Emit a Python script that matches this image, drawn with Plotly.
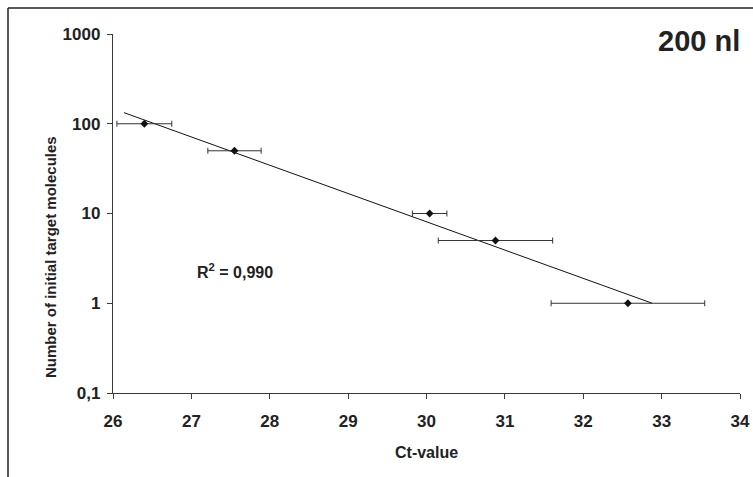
import plotly.graph_objects as go

# Data
ct_values = [26.40, 27.55, 30.04, 30.88, 32.57]
molecules = [100, 50, 10, 5, 1]
ct_err = [0.35, 0.34, 0.22, 0.73, 0.98]

trend_x = [26.14, 32.88]
trend_y = [133, 1.0]

x_ticks = [26, 27, 28, 29, 30, 31, 32, 33, 34]
y_tickvals = [0.1, 1, 10, 100, 1000]
y_ticktext = ["0,1", "1", "10", "100", "1000"]

FONT = "Liberation Sans, Arial, sans-serif"
TXT = "#222222"
AX = "#3a3a3a"

fig = go.Figure()
fig.add_trace(go.Scatter(
    x=trend_x, y=trend_y, mode="lines",
    line=dict(color="#111111", width=1), hoverinfo="skip", showlegend=False))
fig.add_trace(go.Scatter(
    x=ct_values, y=molecules, mode="markers",
    marker=dict(symbol="diamond", size=6, color="#111111"),
    error_x=dict(type="data", array=ct_err, visible=True, color="#333333",
                 thickness=1, width=3),
    showlegend=False))

L, R, T, B = 113, 13, 34, 84
W, H = 753, 477
pw, ph = W - L - R, H - T - B

def px2paper_x(px):
    return (px - L) / pw

def px2paper_y(py):
    return (H - B - py) / ph

fig.update_layout(
    width=W, height=H,
    margin=dict(l=L, r=R, t=T, b=B, autoexpand=False),
    paper_bgcolor="white", plot_bgcolor="white",
    font=dict(family=FONT, color=TXT),
    xaxis=dict(range=[26, 34], tickvals=x_ticks, ticktext=[str(v) for v in x_ticks],
               automargin=False,
               showgrid=False, zeroline=False, showline=True, linecolor=AX, linewidth=1.3,
               ticks="outside", ticklen=5, tickcolor=AX, tickwidth=1.3,
               tickfont=dict(family=FONT, size=17, color=TXT, weight="bold"),
               ticklabelstandoff=7),
    yaxis=dict(type="log", range=[-1, 3], tickvals=y_tickvals, ticktext=y_ticktext,
               automargin=False,
               showgrid=False, zeroline=False, showline=True, linecolor=AX, linewidth=1.3,
               ticks="outside", ticklen=5, tickcolor=AX, tickwidth=1.3,
               tickfont=dict(family=FONT, size=17, color=TXT, weight="bold"),
               ticklabelstandoff=3),
    shapes=[
        dict(type="line", xref="paper", yref="paper",
             x0=px2paper_x(8), x1=px2paper_x(760), y0=px2paper_y(8), y1=px2paper_y(8),
             line=dict(color="#222222", width=1.5)),
        dict(type="line", xref="paper", yref="paper",
             x0=px2paper_x(8), x1=px2paper_x(8), y0=px2paper_y(8), y1=px2paper_y(490),
             line=dict(color="#222222", width=1.5)),
    ],
    annotations=[
        dict(text="200 nl", xref="paper", yref="paper", x=px2paper_x(742), y=px2paper_y(41),
             xanchor="right", yanchor="middle", showarrow=False,
             font=dict(family=FONT, size=29, color=TXT, weight="bold")),
        dict(text="R<sup>2</sup> = 0,990", xref="paper", yref="paper",
             x=px2paper_x(195), y=px2paper_y(271), xanchor="left", yanchor="middle",
             showarrow=False, font=dict(family=FONT, size=16, color=TXT, weight="bold")),
        dict(text="Ct-value", xref="paper", yref="paper",
             x=px2paper_x(426), y=px2paper_y(452), xanchor="center", yanchor="middle",
             showarrow=False, font=dict(family=FONT, size=16, color=TXT, weight="bold")),
        dict(text="Number of initial target molecules", xref="paper", yref="paper",
             x=px2paper_x(50), y=px2paper_y(257), xanchor="center", yanchor="middle",
             textangle=-90, showarrow=False,
             font=dict(family=FONT, size=15, color=TXT, weight="bold")),
    ],
)

fig.write_html("out.html")
